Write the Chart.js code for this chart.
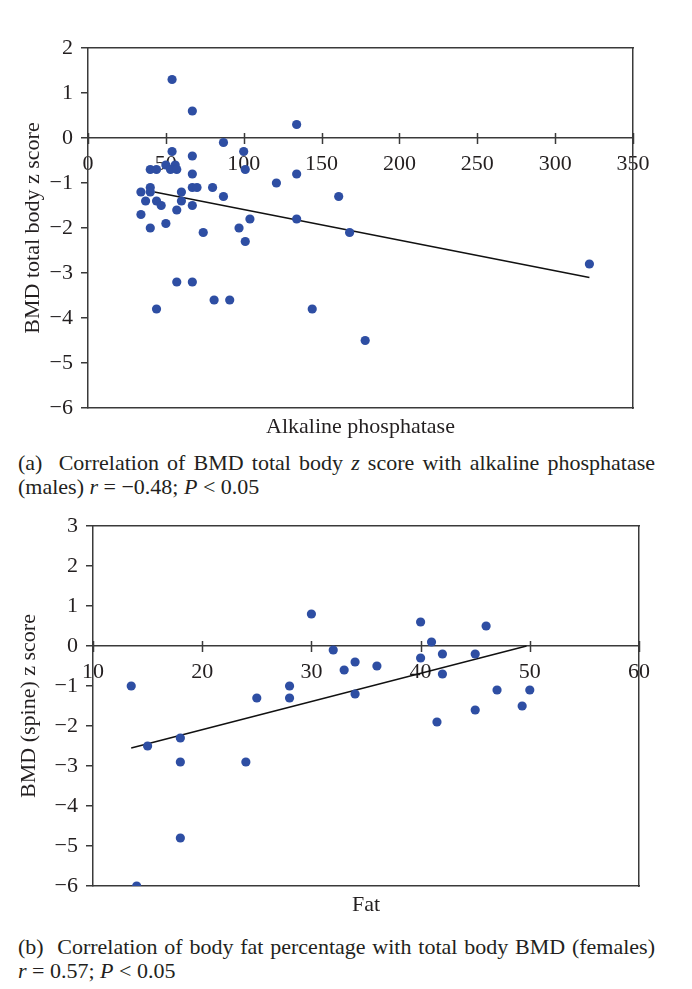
<!DOCTYPE html>
<html lang="en">
<head>
  <meta charset="UTF-8">
  <title>BMD z score correlations</title>
  <style>
    body {
      margin: 0;
      padding: 0;
      background: #fff;
      width: 692px;
      height: 989px;
      position: relative;
      overflow: hidden;
      font-family: "Liberation Serif", "DejaVu Serif", serif;
      color: #231f20;
    }
    canvas {
      position: absolute;
      left: 0;
    }
    #chartA { top: 0; }
    #chartB { top: 500px; }
    .caption {
      position: absolute;
      left: 18px;
      width: 637px;
      font-size: 22px;
      line-height: 24px;
    }
    .caption .full {
      text-align: justify;
      text-align-last: justify;
    }
    #capA { top: 451px; }
    #capB { top: 935px; }
  </style>
</head>
<body>
  <canvas id="chartA" width="692" height="443"></canvas>
  <div class="caption" id="capA">
    <div class="full">(a)&nbsp; Correlation of BMD total body <i>z</i> score with alkaline phosphatase</div>
    <div>(males) <i>r</i> = −0.48; <i>P</i> &lt; 0.05</div>
  </div>

  <canvas id="chartB" width="692" height="421"></canvas>
  <div class="caption" id="capB">
    <div class="full">(b)&nbsp; Correlation of body fat percentage with total body BMD (females)</div>
    <div><i>r</i> = 0.57; <i>P</i> &lt; 0.05</div>
  </div>

  <script src="https://cdn.jsdelivr.net/npm/chart.js"></script>
  <script>
    // (a) males: alkaline phosphatase vs BMD total body z score
    const alpX = [54, 67, 134, 87, 100, 54, 67, 40, 44, 50, 56, 53, 57, 101, 67, 134, 121,
                  34, 40, 40, 60, 67, 70, 80, 87, 161, 37, 44, 47, 60, 67, 57, 34, 104, 134,
                  40, 50, 97, 74, 101, 168, 44, 57, 67, 81, 91, 144, 178, 322];
    const bmdA = [1.3, 0.6, 0.3, -0.1, -0.3, -0.3, -0.4, -0.7, -0.7, -0.6, -0.6, -0.7, -0.7, -0.7, -0.8, -0.8, -1.0,
                  -1.2, -1.1, -1.2, -1.2, -1.1, -1.1, -1.1, -1.3, -1.3, -1.4, -1.4, -1.5, -1.4, -1.5, -1.6, -1.7, -1.8, -1.8,
                  -2.0, -1.9, -2.0, -2.1, -2.3, -2.1, -3.8, -3.2, -3.2, -3.6, -3.6, -3.8, -4.5, -2.8];
    const trendAX = [42.7, 322];
    const trendAY = [-1.2, -3.1];

    // (b) females: fat vs BMD (spine) z score
    const fatX = [13.5, 15, 18, 18, 18, 14, 24, 25, 28, 28, 30, 32, 33, 34, 36, 34,
                  40, 40, 41, 42, 42, 41.5, 45, 46, 47, 45, 49.3, 50];
    const bmdB = [-1.0, -2.5, -2.3, -2.9, -4.8, -6.0, -2.9, -1.3, -1.0, -1.3, 0.8, -0.1, -0.6, -0.4, -0.5, -1.2,
                  0.6, -0.3, 0.1, -0.2, -0.7, -1.9, -0.2, 0.5, -1.1, -1.6, -1.5, -1.1];
    const trendBX = [13.5, 49.7];
    const trendBY = [-2.55, 0];

    const dotColor = '#2e4ea3';
    const axisColor = '#3a3a3a';
    const tickFont = { family: 'Liberation Serif', size: 22 };
    const titleFont = { family: 'Liberation Serif', size: 22 };

    const minus = v => String(v).replace('-', '\u2212');

    // x ticks cross the axis line (both sides)
    const crossTicks = {
      id: 'crossTicks',
      afterDraw(chart) {
        const xs = chart.scales.x, ys = chart.scales.y;
        const y0 = ys.getPixelForValue(0);
        const c = chart.ctx;
        c.save();
        c.strokeStyle = axisColor;
        c.lineWidth = 1.5;
        xs.ticks.forEach(t => {
          const px = Math.round(xs.getPixelForValue(t.value)) + 0.5;
          c.beginPath();
          c.moveTo(px, y0 - 5);
          c.lineTo(px, y0 + 6);
          c.stroke();
        });
        c.restore();
      }
    };

    function makeChart(id, cfg) {
      const pts = cfg.xs.map((x, i) => ({ x: x, y: cfg.ys[i] }));
      const line = cfg.tx.map((x, i) => ({ x: x, y: cfg.ty[i] }));
      const frame = {
        ticks: { display: false },
        grid: { display: false },
        border: { display: true, color: axisColor, width: 1.5 }
      };
      return new Chart(document.getElementById(id), {
        type: 'scatter',
        data: {
          datasets: [{
            data: pts,
            backgroundColor: dotColor,
            borderWidth: 0,
            pointRadius: 4.6
          }, {
            type: 'line',
            data: line,
            borderColor: '#111',
            borderWidth: 1.4,
            pointRadius: 0,
            fill: false
          }]
        },
        options: {
          responsive: false,
          animation: false,
          events: [],
          plugins: { legend: { display: false }, tooltip: { enabled: false } },
          layout: { padding: 0 },
          scales: {
            x: {
              type: 'linear',
              position: { y: 0 },
              min: cfg.xMin, max: cfg.xMax,
              ticks: { stepSize: cfg.xStep, color: '#231f20', font: tickFont, padding: 5, maxRotation: 0 },
              grid: { display: false },
              border: { display: true, color: axisColor, width: 1.5 }
            },
            xb: Object.assign({}, frame, {
              type: 'linear', position: 'bottom', min: cfg.xMin, max: cfg.xMax,
              title: { display: true, text: cfg.xTitle, font: titleFont, color: '#231f20', padding: { top: 0, bottom: 3 } },
              afterFit: s => { s.height = cfg.bottomH; }
            }),
            xt: Object.assign({}, frame, {
              type: 'linear', position: 'top', min: cfg.xMin, max: cfg.xMax,
              afterFit: s => { s.height = cfg.topH; }
            }),
            y: {
              type: 'linear',
              position: 'left',
              min: cfg.yMin, max: cfg.yMax,
              ticks: { stepSize: 1, color: '#231f20', font: tickFont, padding: 8, callback: minus },
              grid: { drawOnChartArea: false, tickLength: 7, color: axisColor, lineWidth: 1.5 },
              border: { display: true, color: axisColor, width: 1.5 },
              title: { display: true, text: cfg.yTitle, font: titleFont, color: '#231f20', padding: { top: cfg.yTitlePad, bottom: 0 } },
              afterFit: s => { s.width = cfg.leftW; }
            },
            yr: Object.assign({}, frame, {
              type: 'linear', position: 'right', min: cfg.yMin, max: cfg.yMax,
              afterFit: s => { s.width = cfg.rightW; }
            })
          }
        },
        plugins: [crossTicks]
      });
    }

    makeChart('chartA', {
      xs: alpX, ys: bmdA, tx: trendAX, ty: trendAY,
      xMin: 0, xMax: 350, xStep: 50, yMin: -6, yMax: 2,
      xTitle: 'Alkaline phosphatase', yTitle: 'BMD total body z score', yTitlePad: 20,
      leftW: 88, rightW: 59, topH: 48, bottomH: 35
    });

    makeChart('chartB', {
      xs: fatX, ys: bmdB, tx: trendBX, ty: trendBY,
      xMin: 10, xMax: 60, xStep: 10, yMin: -6, yMax: 3,
      xTitle: 'Fat', yTitle: 'BMD (spine) z score', yTitlePad: 16,
      leftW: 93, rightW: 53, topH: 26, bottomH: 35
    });
  </script>
</body>
</html>
